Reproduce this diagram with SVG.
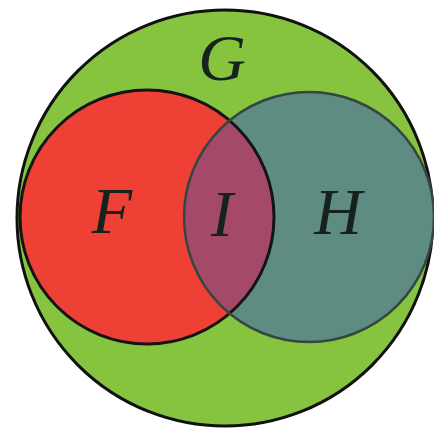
<svg xmlns="http://www.w3.org/2000/svg" width="434" height="433" viewBox="0 0 434 433">
<style>
.lbl{font-family:"Liberation Serif","DejaVu Serif",serif;font-style:italic;font-size:66px;fill:#15231c;text-anchor:middle}
</style>
<defs>
<clipPath id="clipF"><circle cx="147" cy="217" r="127"/></clipPath>
</defs>
<rect width="434" height="433" fill="#ffffff"/>
<g id="G">
<circle cx="225" cy="218" r="208" fill="#86c440" stroke="#111" stroke-width="3"/>
<text class="lbl" x="222" y="80">G</text>
</g>
<g id="F">
<circle cx="147" cy="217" r="127" fill="#ee4035"/>
</g>
<g id="H">
<circle cx="309" cy="217" r="125" fill="#5e8b82"/>
</g>
<g id="I">
<circle cx="309" cy="217" r="125" fill="#a5496a" clip-path="url(#clipF)"/>
</g>
<g id="outlines">
<circle cx="147" cy="217" r="127" fill="none" stroke="#141414" stroke-width="3"/>
<circle cx="309" cy="217" r="125" fill="none" stroke="#34463f" stroke-width="2.5"/>
</g>
<text class="lbl" x="112" y="233">F</text>
<text class="lbl" x="222" y="236">I</text>
<text class="lbl" x="338" y="234">H</text>
</svg>
